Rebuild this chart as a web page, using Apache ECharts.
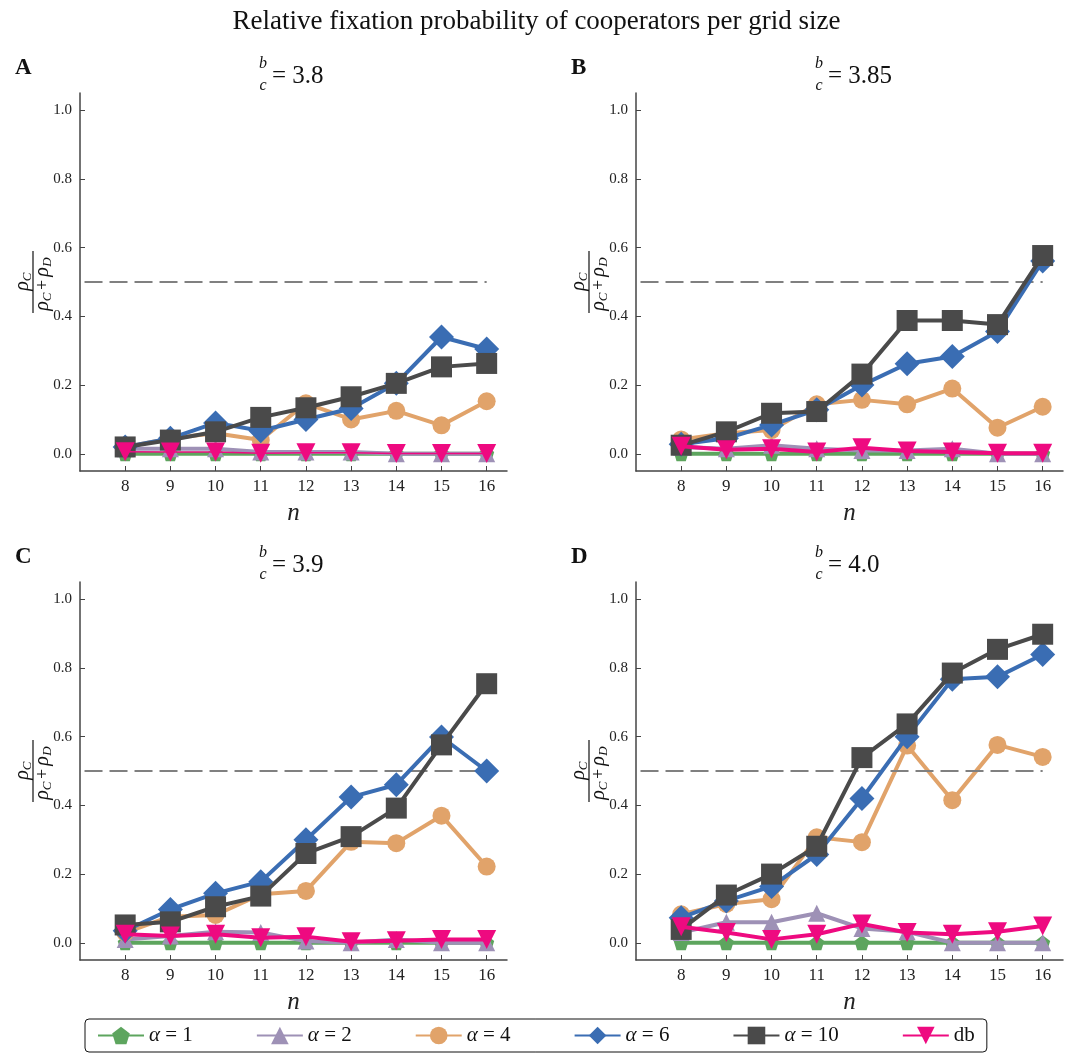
<!DOCTYPE html>
<html><head><meta charset="utf-8">
<script src="https://cdn.jsdelivr.net/npm/echarts@6/dist/echarts.min.js"></script>
<style>html,body{margin:0;padding:0;background:#fff}#c{width:1073px;height:1055px}</style>
</head><body><div id="c"></div>
<script>
const categories = [8, 9, 10, 11, 12, 13, 14, 15, 16];
const yTicks = [0.0, 0.2, 0.4, 0.6, 0.8, 1.0];
const threshold = 0.5;
const panelLetters = ['A', 'B', 'C', 'D'];
const bcValues = ['3.8', '3.85', '3.9', '4.0'];
const seriesNames = ['α = 1', 'α = 2', 'α = 4', 'α = 6', 'α = 10', 'db'];

// Panel A (b/c = 3.8)
const alpha1_A = [0, 0, 0, 0, 0, 0, 0, 0, 0];
const alpha2_A = [0.015, 0.015, 0.015, 0.005, 0.005, 0.005, 0.0, 0.0, 0.0];
const alpha4_A = [0.02, 0.045, 0.06, 0.04, 0.147, 0.10, 0.125, 0.083, 0.153];
const alpha6_A = [0.02, 0.045, 0.09, 0.067, 0.10, 0.132, 0.205, 0.34, 0.305];
const alpha10_A = [0.02, 0.04, 0.064, 0.106, 0.134, 0.166, 0.205, 0.253, 0.263];
const db_A = [0.006, 0.005, 0.005, 0.002, 0.003, 0.003, 0.001, 0.001, 0.001];

// Panel B (b/c = 3.85)
const alpha1_B = [0, 0, 0, 0, 0, 0, 0, 0, 0];
const alpha2_B = [0.02, 0.015, 0.025, 0.015, 0.01, 0.01, 0.015, 0.0, 0.0];
const alpha4_B = [0.042, 0.06, 0.069, 0.144, 0.157, 0.144, 0.19, 0.076, 0.137];
const alpha6_B = [0.028, 0.045, 0.084, 0.128, 0.20, 0.262, 0.283, 0.356, 0.561];
const alpha10_B = [0.025, 0.064, 0.118, 0.123, 0.232, 0.388, 0.388, 0.376, 0.577];
const db_B = [0.022, 0.012, 0.015, 0.005, 0.018, 0.008, 0.005, 0.002, 0.002];

// Panel C (b/c = 3.9)
const alpha1_C = [0, 0, 0, 0, 0, 0, 0, 0, 0];
const alpha2_C = [0.01, 0.02, 0.032, 0.03, 0.005, 0.0, 0.01, 0.0, 0.0];
const alpha4_C = [0.03, 0.076, 0.081, 0.141, 0.151, 0.294, 0.29, 0.37, 0.222];
const alpha6_C = [0.035, 0.097, 0.144, 0.178, 0.30, 0.424, 0.46, 0.599, 0.50];
const alpha10_C = [0.052, 0.061, 0.105, 0.136, 0.26, 0.309, 0.392, 0.576, 0.754];
const db_C = [0.025, 0.02, 0.025, 0.015, 0.018, 0.003, 0.006, 0.01, 0.01];

// Panel D (b/c = 4.0)
const alpha1_D = [0, 0, 0, 0, 0, 0, 0, 0, 0];
const alpha2_D = [0.03, 0.06, 0.06, 0.086, 0.042, 0.032, 0.0, 0.0, 0.0];
const alpha4_D = [0.083, 0.113, 0.127, 0.307, 0.293, 0.574, 0.415, 0.576, 0.541];
const alpha6_D = [0.073, 0.122, 0.164, 0.257, 0.42, 0.60, 0.767, 0.774, 0.839];
const alpha10_D = [0.039, 0.139, 0.20, 0.281, 0.539, 0.637, 0.785, 0.854, 0.898];
const db_D = [0.047, 0.03, 0.01, 0.025, 0.055, 0.03, 0.025, 0.032, 0.049];

const panelData = [
  [alpha1_A, alpha2_A, alpha4_A, alpha6_A, alpha10_A, db_A],
  [alpha1_B, alpha2_B, alpha4_B, alpha6_B, alpha10_B, db_B],
  [alpha1_C, alpha2_C, alpha4_C, alpha6_C, alpha10_C, db_C],
  [alpha1_D, alpha2_D, alpha4_D, alpha6_D, alpha10_D, db_D]
];

const SERIF = '"Liberation Serif","DejaVu Serif",serif';
const colors = ['#5DA55E', '#9E91B6', '#E1A36A', '#3A6DB3', '#4A4A4A', '#EE0A80'];
const pentagon = 'path://M0,-10 L9.51,-3.09 L5.88,8.09 L-5.88,8.09 L-9.51,-3.09 Z';
const symbols = [pentagon, 'triangle', 'circle', 'diamond', 'rect', 'triangle'];
const symbolSizes = [15, 17, 18, 25, 21, 19];
const symbolRotates = [0, 0, 0, 0, 0, 180];

const grids = [
  {left: 80, top: 93, width: 427, height: 378},
  {left: 636, top: 93, width: 427, height: 378},
  {left: 80, top: 582, width: 427, height: 378},
  {left: 636, top: 582, width: 427, height: 378}
];
const axisColor = '#444';

const xAxes = [], yAxes = [], series = [], graphics = [];
grids.forEach((g, i) => {
  xAxes.push({
    type: 'value', gridIndex: i, min: 7, max: 16.45,
    axisLine: {onZero: false, lineStyle: {color: axisColor, width: 1.5}},
    axisTick: {inside: true, length: 5, customValues: categories, lineStyle: {color: axisColor}},
    axisLabel: {customValues: categories, fontFamily: SERIF, fontSize: 17, color: '#222', margin: 7},
    splitLine: {show: false},
    name: 'n', nameLocation: 'middle', nameGap: 30,
    nameTextStyle: {fontFamily: SERIF, fontStyle: 'italic', fontSize: 25, color: '#222'}
  });
  yAxes.push({
    type: 'value', gridIndex: i, min: -0.05, max: 1.05,
    axisLine: {show: true, onZero: false, lineStyle: {color: axisColor, width: 1.5}},
    axisTick: {show: true, inside: true, length: 5, customValues: yTicks, lineStyle: {color: axisColor}},
    axisLabel: {customValues: yTicks, formatter: v => v.toFixed(1), fontFamily: SERIF, fontSize: 15, color: '#222', margin: 8},
    splitLine: {show: false}
  });
  panelData[i].forEach((arr, k) => {
    const s = {
      type: 'line', name: seriesNames[k], xAxisIndex: i, yAxisIndex: i,
      data: categories.map((c, j) => [c, arr[j]]),
      symbol: symbols[k], symbolSize: symbolSizes[k], symbolRotate: symbolRotates[k],
      showAllSymbol: true,
      lineStyle: {color: colors[k], width: (k === 5 && i === 0) ? 1.5 : 4},
      itemStyle: {color: colors[k]},
      emphasis: {disabled: true}, animation: false, z: 2 + k
    };
    if (k === 0) {
      s.markLine = {
        silent: true, symbol: 'none', label: {show: false}, animation: false,
        lineStyle: {color: '#808080', type: [18, 7], width: 2},
        data: [[{coord: [7.1, threshold]}, {coord: [16, threshold]}]]
      };
    }
    series.push(s);
  });

  const col = i % 2, row = Math.floor(i / 2);
  const ox = col === 0 ? 0 : 556;
  const oy = row === 0 ? 0 : 489;
  graphics.push({type: 'text', left: 15 + ox, top: 57 + oy,
    style: {text: panelLetters[i], font: 'bold 23px ' + SERIF, fill: '#111'}});
  const tx = 263 + ox, ty = 76 + oy;
  graphics.push({type: 'text', x: tx, y: ty - 12, style: {text: 'b', font: 'italic 16px ' + SERIF, fill: '#111', align: 'center', verticalAlign: 'middle'}});
  graphics.push({type: 'text', x: tx, y: ty + 10, style: {text: 'c', font: 'italic 16px ' + SERIF, fill: '#111', align: 'center', verticalAlign: 'middle'}});
  graphics.push({type: 'text', x: tx + 9, y: ty, style: {text: '= ' + bcValues[i], font: '25px ' + SERIF, fill: '#111', align: 'left', verticalAlign: 'middle'}});
  const fx = g.left - 47, fy = g.top + 17.2 + 343.6 * 0.5;
  graphics.push({
    type: 'group', x: fx, y: fy, rotation: Math.PI / 2,
    children: [
      {type: 'line', shape: {x1: -31, y1: 0, x2: 31, y2: 0}, style: {stroke: '#111', lineWidth: 1.2}},
      {type: 'text', x: -4, y: -10, style: {text: 'ρ', font: 'italic 20px ' + SERIF, fill: '#111', align: 'center', verticalAlign: 'middle'}},
      {type: 'text', x: 5, y: -5, style: {text: 'C', font: 'italic 13px ' + SERIF, fill: '#111', align: 'center', verticalAlign: 'middle'}},
      {type: 'text', x: -24, y: 10, style: {text: 'ρ', font: 'italic 20px ' + SERIF, fill: '#111', align: 'center', verticalAlign: 'middle'}},
      {type: 'text', x: -15, y: 15, style: {text: 'C', font: 'italic 13px ' + SERIF, fill: '#111', align: 'center', verticalAlign: 'middle'}},
      {type: 'text', x: -3, y: 10, style: {text: '+', font: '18px ' + SERIF, fill: '#111', align: 'center', verticalAlign: 'middle'}},
      {type: 'text', x: 10, y: 10, style: {text: 'ρ', font: 'italic 20px ' + SERIF, fill: '#111', align: 'center', verticalAlign: 'middle'}},
      {type: 'text', x: 20, y: 15, style: {text: 'D', font: 'italic 13px ' + SERIF, fill: '#111', align: 'center', verticalAlign: 'middle'}}
    ]
  });
});

const chart = echarts.init(document.getElementById('c'), null, {renderer: 'canvas'});
chart.setOption({
  animation: false,
  backgroundColor: '#fff',
  title: {text: 'Relative fixation probability of cooperators per grid size', left: 'center', top: 3,
    textStyle: {fontFamily: SERIF, fontSize: 27, fontWeight: 'normal', color: '#111'}},
  grid: grids,
  xAxis: xAxes,
  yAxis: yAxes,
  series: series,
  graphic: graphics,
  legend: {
    data: seriesNames, left: 85, top: 1019, width: 900,
    padding: [6, 12], itemGap: 63, itemWidth: 46, itemHeight: 22,
    borderColor: '#111', borderWidth: 1, borderRadius: 4,
    formatter: name => name === 'db' ? '{n|db}' : '{a|α}{n|' + name.slice(1) + '}',
    textStyle: {fontFamily: SERIF, fontSize: 21, color: '#111',
      rich: {a: {fontFamily: SERIF, fontStyle: 'italic', fontSize: 21, color: '#111'},
             n: {fontFamily: SERIF, fontSize: 21, color: '#111'}}},
    selectedMode: false
  }
});
</script></body></html>
